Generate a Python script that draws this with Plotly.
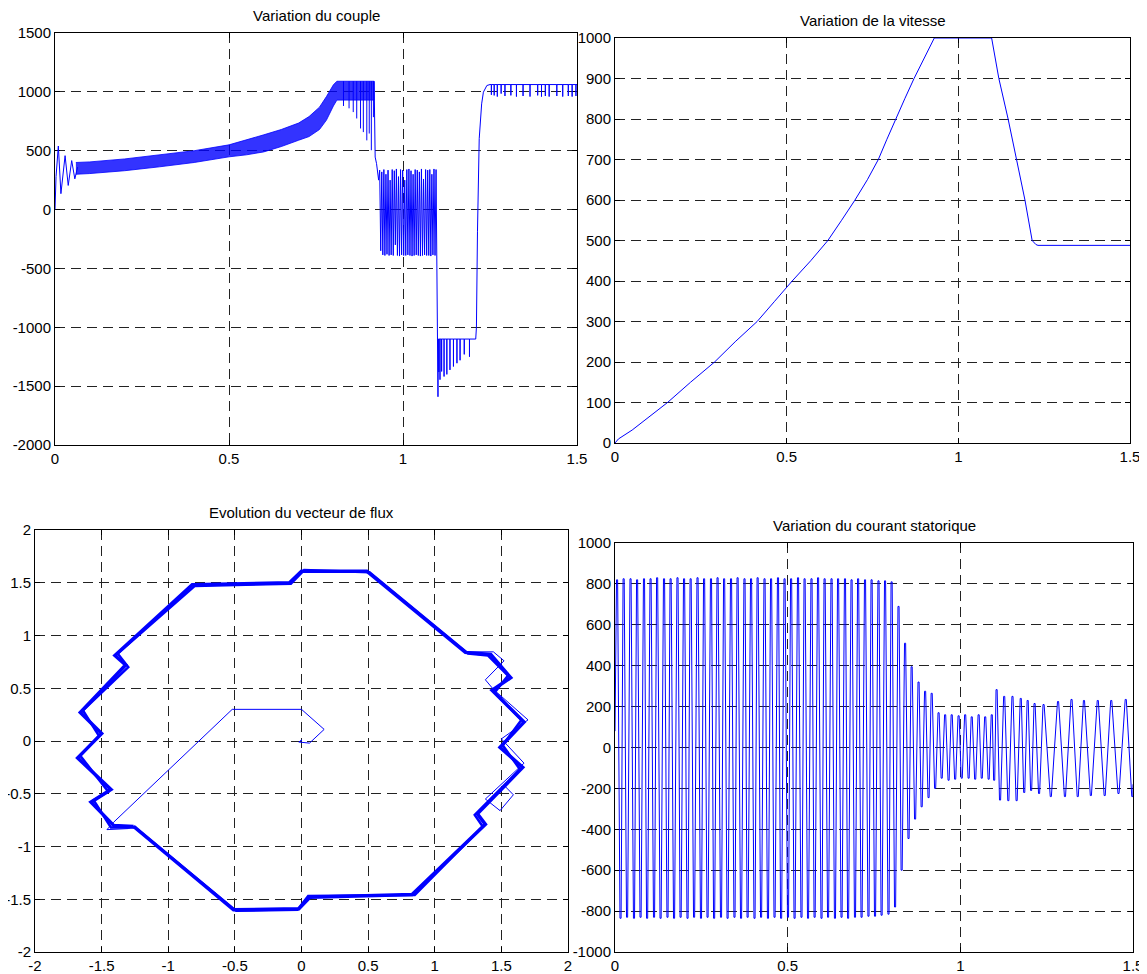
import plotly.graph_objects as go

# ---------------- Data ----------------
# Couple (torque)
couple_transitoire_t = [0, 0.003, 0.0096, 0.017, 0.029, 0.038, 0.048, 0.057, 0.065]
couple_transitoire_v = [0, 280, 540, 135, 458, 205, 416, 261, 360]

couple_bande_t = [0.06, 0.1, 0.2, 0.3, 0.4, 0.5, 0.55, 0.6, 0.65, 0.7, 0.73, 0.76, 0.78, 0.8, 0.81, 0.917]
couple_bande_haut = [400, 405, 430, 462, 500, 550, 590, 635, 680, 735, 790, 870, 960, 1060, 1090, 1090]
couple_bande_bas = [300, 306, 330, 363, 400, 448, 465, 490, 535, 589, 620, 680, 760, 880, 930, 930]

couple_pics1_t = [0.829, 0.845, 0.857, 0.867, 0.878, 0.886, 0.896, 0.903, 0.909, 0.915]
couple_pics1_v = [880, 860, 828, 774, 689, 658, 588, 646, 504, 785]

couple_chute1_t = [0.917, 0.920, 0.924, 0.930, 0.933]
couple_chute1_v = [1090, 446, 390, 250, 335]

couple_osc_t = [0.933, 0.936, 0.939, 0.942, 0.945, 0.948, 0.951, 0.954, 0.957, 0.960,
                0.963, 0.966, 0.969, 0.972, 0.975, 0.978, 0.981, 0.984, 0.987, 0.990,
                0.993, 0.996, 0.999, 1.002, 1.005, 1.008, 1.011, 1.014, 1.017, 1.020,
                1.023, 1.026, 1.029, 1.032, 1.035, 1.038, 1.041, 1.044, 1.047, 1.050,
                1.053, 1.056, 1.059, 1.062, 1.065, 1.068, 1.071, 1.074, 1.077, 1.080,
                1.083, 1.086, 1.089, 1.092, 1.095]
couple_osc_v = [335, -350, 320, -385, 340, -390, 300, -380, 335, -390,
                250, -385, 340, -390, 330, -300, 345, -390, 280, -395,
                340, -385, 335, -390, 250, -390, 340, -385, 345, -390,
                330, -395, 300, -390, 340, -385, 335, -390, 320, -395,
                345, -390, 260, -385, 340, -390, 335, -390, 340, -395,
                300, -385, 345, -390, 340]

couple_chute2_t = [1.095, 1.1005, 1.1015]
couple_chute2_v = [340, -1590, -1100]
couple_neg_niveau = -1100
couple_neg_pics_t = [1.103, 1.1063, 1.111, 1.118, 1.126, 1.135, 1.145, 1.155, 1.164, 1.176, 1.191]
couple_neg_pics_v = [-1380, -1445, -1375, -1418, -1400, -1362, -1333, -1305, -1280, -1230, -1250]
couple_neg_fin = 1.209

couple_montee_t = [1.209, 1.211, 1.214, 1.217, 1.219, 1.226, 1.231, 1.241, 1.25]
couple_montee_v = [-1100, -1000, -189, 300, 602, 898, 997, 1054, 1062]

couple_pos_niveau = 1062
couple_pos_pics_t = [1.254, 1.262, 1.271, 1.282, 1.293, 1.31, 1.326, 1.345, 1.365,
                     1.387, 1.398, 1.409, 1.42, 1.442, 1.459, 1.475, 1.486, 1.497]
couple_pos_pics_v = [975, 970, 960, 985, 965, 970, 960, 965, 960,
                     970, 960, 965, 960, 965, 960, 965, 960, 965]
couple_pos_fin = 1.5

# Vitesse (speed)
vitesse_t = [0, 0.01, 0.05, 0.153, 0.22, 0.29, 0.35, 0.414, 0.465, 0.516, 0.57, 0.62, 0.66,
             0.699, 0.735, 0.767, 0.792, 0.817, 0.844, 0.871, 0.90, 0.93,
             1.097, 1.118, 1.145, 1.194, 1.215, 1.226, 1.232, 1.5]
vitesse_v = [0, 10, 32, 100, 150, 200, 250, 300, 350, 400, 450, 500, 550,
             600, 650, 700, 750, 800, 850, 900, 950, 1000,
             1000, 900, 800, 600, 500, 490, 488, 488]

# Flux vector trajectory
flux_boucle_x = [-1.26, -0.51, -0.02, 0.065, 0.83, 1.38, 1.32, 1.66, 1.49, 1.67, 1.43, 1.57, 1.42,
                 1.23, 0.49, 0.0, -0.09, -0.82, -1.40, -1.32, -1.66, -1.50, -1.68, -1.43, -1.58, -1.41, -1.26]
flux_boucle_y = [-0.81, -1.60, -1.59, -1.48, -1.455, -0.79, -0.69, -0.25, -0.06, 0.18, 0.48, 0.60, 0.82,
                 0.84, 1.61, 1.61, 1.50, 1.48, 0.81, 0.72, 0.27, 0.07, -0.16, -0.46, -0.58, -0.80, -0.81]
flux_boucle2_x = [-1.24, -0.49, -0.03, 0.05, 0.85, 1.36, 1.30, 1.64, 1.51, 1.65, 1.45, 1.55, 1.40,
                  1.25, 0.51, 0.02, -0.08, -0.80, -1.38, -1.30, -1.64, -1.52, -1.66, -1.45, -1.56, -1.43, -1.24]
flux_boucle2_y = [-0.83, -1.61, -1.60, -1.47, -1.46, -0.81, -0.70, -0.27, -0.04, 0.20, 0.46, 0.62, 0.81,
                  0.83, 1.60, 1.62, 1.49, 1.47, 0.83, 0.70, 0.29, 0.05, -0.14, -0.48, -0.56, -0.82, -0.82]
flux_ecart_x = [1.23, 1.44, 1.52, 1.38, 1.44, 1.70, 1.50, 1.67, 1.38, 1.49, 1.59, 1.52]
flux_ecart_y = [0.845, 0.845, 0.76, 0.58, 0.49, 0.20, 0.02, -0.21, -0.55, -0.66, -0.51, -0.42]
flux_depart_x = [0.0, 0.0, -0.02, 0.06, 0.17, 0.0, -0.52, -1.41, -1.46, -1.30, -1.26]
flux_depart_y = [0.0, 0.01, -0.01, -0.02, 0.11, 0.30, 0.30, -0.77, -0.84, -0.83, -0.81]

# Courant statorique (stator current) : half-cycle extremes
courant_t = [0,
             0.006, 0.016, 0.025, 0.035, 0.045, 0.055, 0.064, 0.074, 0.084, 0.093,
             0.103, 0.113, 0.122, 0.132, 0.142, 0.152, 0.161, 0.171, 0.181, 0.190,
             0.200, 0.210, 0.219, 0.229, 0.239, 0.249, 0.258, 0.268, 0.278, 0.287,
             0.297, 0.307, 0.316, 0.326, 0.336, 0.346, 0.355, 0.365, 0.375, 0.384,
             0.394, 0.404, 0.413, 0.423, 0.433, 0.443, 0.452, 0.462, 0.472, 0.481,
             0.491, 0.501, 0.510, 0.520, 0.530, 0.540, 0.549, 0.559, 0.569, 0.578,
             0.588, 0.598, 0.607, 0.617, 0.627, 0.637, 0.646, 0.656, 0.666, 0.675,
             0.685, 0.695, 0.704, 0.714, 0.724, 0.734, 0.743, 0.753, 0.763, 0.772,
             0.782, 0.792, 0.801, 0.811, 0.821,
             0.830, 0.840, 0.850, 0.859, 0.869, 0.879, 0.888, 0.898, 0.908, 0.917,
             0.927, 0.937, 0.946, 0.956, 0.966, 0.975, 0.985, 0.995, 1.004, 1.014,
             1.024, 1.033, 1.043, 1.053, 1.062, 1.072, 1.082, 1.091, 1.098, 1.105,
             1.115, 1.127, 1.139, 1.151, 1.163, 1.175, 1.185, 1.195, 1.205, 1.215,
             1.228, 1.241, 1.262, 1.283, 1.303, 1.322, 1.340, 1.358, 1.378, 1.398,
             1.418, 1.437, 1.458, 1.479, 1.498]
courant_i = [80,
             820, -835, 825, -830, 825, -835, 820, -830, 825, -835,
             825, -830, 830, -835, 825, -830, 825, -835, 830, -830,
             825, -835, 825, -830, 830, -835, 825, -830, 825, -835,
             830, -830, 825, -835, 825, -830, 830, -835, 825, -830,
             825, -835, 830, -830, 825, -835, 825, -830, 830, -835,
             825, -830, 825, -835, 830, -830, 825, -835, 825, -830,
             830, -835, 825, -830, 825, -835, 825, -830, 825, -835,
             820, -830, 825, -830, 820, -825, 820, -825, 815, -820,
             815, -815, 810, -780, 690,
             -600, 510, -445, 395, -350, 320, -290, 275, -245, 265,
             -200, 170, -150, 160, -160, 160, -155, 155, -150, 160,
             -150, 150, -155, 160, -150, 150, -155, 160, -160, 283,
             -257, 250, -260, 250, -260, 240, -220, 230, -210, 215,
             -225, 210, -240, 225, -240, 235, -240, 230, -235, 230,
             -235, 230, -225, 235, -240]
courant_fin_t = 1.5
courant_fin_i = -180
courant_palier = 0.0016   # half-width of the flat top drawn at each extreme (style)

# Tick values
x_ticks_temps = [0, 0.5, 1, 1.5]
y_ticks_couple = [-2000, -1500, -1000, -500, 0, 500, 1000, 1500]
y_ticks_vitesse = [0, 100, 200, 300, 400, 500, 600, 700, 800, 900, 1000]
ticks_flux = [-2, -1.5, -1, -0.5, 0, 0.5, 1, 1.5, 2]
y_ticks_courant = [-1000, -800, -600, -400, -200, 0, 200, 400, 600, 800, 1000]

titres = ["Variation du couple", "Variation de la vitesse",
          "Evolution du vecteur de flux", "Variation du courant statorique"]

# ---------------- Figure ----------------
PAGE_W, PAGE_H = 1147, 974
OFF = 8                      # default body margin of the html page
W, H = PAGE_W - OFF, PAGE_H - OFF
BLUE = "#0000ff"
FONT = "Liberation Sans, Arial, Helvetica, sans-serif"


def lbl(v):
    return "%g" % v


fig = go.Figure()


def line(x, y, ax, width=1.0, color=BLUE):
    fig.add_trace(go.Scatter(x=x, y=y, mode="lines", xaxis="x" + ax, yaxis="y" + ax,
                             line=dict(color=color, width=width), hoverinfo="skip",
                             showlegend=False, connectgaps=False))


# --- couple (axis 1) ---
line(couple_transitoire_t, couple_transitoire_v, "")
fig.add_trace(go.Scatter(x=couple_bande_t + couple_bande_t[::-1],
                         y=couple_bande_haut + couple_bande_bas[::-1],
                         mode="lines", fill="toself", fillcolor="rgba(0,0,255,0.8)",
                         line=dict(color=BLUE, width=0.8), xaxis="x", yaxis="y",
                         hoverinfo="skip", showlegend=False))
px, py = [], []
for t, d in zip(couple_pics1_t, couple_pics1_v):
    px += [t, t, None]
    py += [1090, d, None]
line(px, py, "")
line(couple_chute1_t, couple_chute1_v, "")
line(couple_osc_t, couple_osc_v, "")
line(couple_chute2_t, couple_chute2_v, "")
nx, ny = [couple_chute2_t[-1]], [couple_neg_niveau]
for t, d in zip(couple_neg_pics_t, couple_neg_pics_v):
    nx += [t, t, t]
    ny += [couple_neg_niveau, d, couple_neg_niveau]
nx.append(couple_neg_fin)
ny.append(couple_neg_niveau)
line(nx, ny, "")
line(couple_montee_t, couple_montee_v, "")
gx, gy = [couple_montee_t[-1]], [couple_pos_niveau]
for t, d in zip(couple_pos_pics_t, couple_pos_pics_v):
    gx += [t, t, t]
    gy += [couple_pos_niveau, d, couple_pos_niveau]
gx.append(couple_pos_fin)
gy.append(couple_pos_niveau)
line(gx, gy, "")

# --- vitesse (axis 2) ---
line(vitesse_t, vitesse_v, "2")

# --- flux (axis 3) ---
line(flux_boucle2_x, flux_boucle2_y, "3", width=2.5)
line(flux_boucle_x, flux_boucle_y, "3", width=3.5)
line(flux_ecart_x, flux_ecart_y, "3", width=1)
line(flux_depart_x, flux_depart_y, "3", width=1)

# --- courant (axis 4) : each extreme drawn as a short flat top ---
cx, cy = [courant_t[0]], [courant_i[0]]
for t, v in zip(courant_t[1:], courant_i[1:]):
    cx += [t - courant_palier, t + courant_palier]
    cy += [v, v]
cx.append(courant_fin_t)
cy.append(courant_fin_i)
line(cx, cy, "4")


def px2dom(x0, x1, y0, y1):
    # page pixel box -> paper domain of a figure placed at (OFF, OFF)
    return ([(x0 - OFF) / W, (x1 - OFF) / W],
            [1 - (y1 - OFF) / H, 1 - (y0 - OFF) / H])


boxes = {   # page pixels: left, right, top, bottom of each plot area
    "": (55, 577, 33, 445),
    "2": (615, 1130, 38, 443),
    "3": (35, 568, 530, 952),
    "4": (615, 1133, 543, 952),
}

axis_common = dict(showline=True, linecolor="black", linewidth=1, mirror="ticks",
                   ticks="inside", ticklen=5, tickcolor="black", automargin=False,
                   showgrid=True, gridcolor="#222222", gridwidth=1, griddash="10px,6px",
                   zeroline=False, tickfont=dict(family=FONT, size=15, color="black"),
                   layer="below traces")

ranges = {
    "": ([0, 1.5], x_ticks_temps, [-2000, 1500], y_ticks_couple),
    "2": ([0, 1.5], x_ticks_temps, [0, 1000], y_ticks_vitesse),
    "3": ([-2, 2], ticks_flux, [-2, 2], ticks_flux),
    "4": ([0, 1.5], x_ticks_temps, [-1000, 1000], y_ticks_courant),
}

layout = dict(width=W, height=H, margin=dict(l=0, r=0, t=0, b=0, pad=0, autoexpand=False),
              paper_bgcolor="white", plot_bgcolor="white", showlegend=False)

annotations = []
for i, ax in enumerate(["", "2", "3", "4"]):
    x0, x1, y0, y1 = boxes[ax]
    xd, yd = px2dom(x0, x1, y0, y1)
    xr, xt, yr, yt = ranges[ax]
    layout["xaxis" + ax] = dict(axis_common, domain=xd, range=xr, tickvals=xt,
                                ticktext=[lbl(v) for v in xt], anchor="y" + ax)
    layout["yaxis" + ax] = dict(axis_common, domain=yd, range=yr, tickvals=yt,
                                ticktext=[lbl(v) for v in yt], anchor="x" + ax)
    annotations.append(dict(text=titres[i], x=((x0 + x1) / 2 - OFF) / W,
                            y=1 - (y0 - 7 - OFF) / H,
                            xref="paper", yref="paper", xanchor="center", yanchor="bottom",
                            showarrow=False, font=dict(family=FONT, size=15, color="black")))

layout["annotations"] = annotations
fig.update_layout(**layout)
fig.write_html("out.html")
